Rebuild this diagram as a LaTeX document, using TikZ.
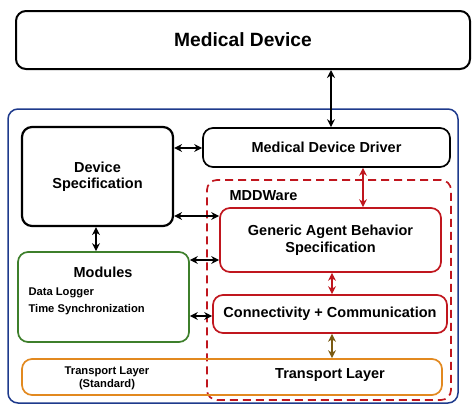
\documentclass[tikz,border=0pt]{standalone}
\usepackage{fontspec}
\setmainfont{Liberation Sans}
\usetikzlibrary{arrows.meta,calc}
\definecolor{cblue}{HTML}{1E3A8C}
\definecolor{cgreen}{HTML}{3D7F2B}
\definecolor{cred}{HTML}{C0161E}
\definecolor{corange}{HTML}{E2891F}
\definecolor{cbrown}{HTML}{7A5A12}
\tikzset{
  box/.style={draw, line width=2pt, rounded corners=10pt, inner sep=0pt, align=center, font=\bfseries\fontsize{14.5}{16.5}\selectfont},
  biarrow/.style={{Stealth[length=8pt,width=8pt]}-{Stealth[length=8pt,width=8pt]}, line width=1.6pt},
  small/.style={font=\bfseries\fontsize{11.2}{13}\selectfont}
}
\begin{document}
\begin{tikzpicture}[x=1pt,y=-1pt]
\useasboundingbox (0,0) rectangle (472,405);
\node[box, minimum width=454pt, minimum height=58pt, font=\bfseries\fontsize{19.2}{21}\selectfont] (md) at (243,40) {Medical Device};
\node[box, draw=cblue, line width=1.5pt, minimum width=450pt, minimum height=294pt] (dev) at (233,256) {};
\node[box, line width=2.2pt, minimum width=151pt, minimum height=99pt] (ds) at (97.5,176.5) {Device\\Specification};
\node[box, line width=1.7pt, minimum width=247pt, minimum height=39pt] (drv) at (326.5,147.5) {Medical Device Driver};
\node[box, draw=cred, dashed, dash pattern=on 8pt off 5pt, line width=1.7pt, minimum width=244pt, minimum height=220pt] (mdd) at (329,290) {};
\node[anchor=west, font=\bfseries\fontsize{14.5}{16.5}\selectfont] (mddl) at (226,196) {MDDWare};
\node[box, draw=cred, line width=1.7pt, minimum width=221pt, minimum height=64pt] (gab) at (330.5,240) {Generic Agent Behavior\\Specification};
\node[box, draw=cred, line width=1.7pt, minimum width=234pt, minimum height=38pt] (cc) at (330,314) {Connectivity + Communication};
\node[box, draw=cgreen, line width=1.7pt, minimum width=171pt, minimum height=90pt] (mod) at (103.5,297) {};
\node[font=\bfseries\fontsize{14.5}{16.5}\selectfont] (modt) at (103,272) {Modules};
\node[small, anchor=west] (m1) at (25,293) {Data Logger};
\node[small, anchor=west] (m2) at (25,310) {Time Synchronization};
\node[box, draw=corange, line width=1.7pt, minimum width=420pt, minimum height=36pt] (tl) at (232,377) {};
\node[align=center, font=\bfseries\fontsize{11.2}{13}\selectfont] (tls) at (107,378) {Transport Layer\\(Standard)};
\node[font=\bfseries\fontsize{14.5}{16.5}\selectfont] (tlr) at (330,375) {Transport Layer};
% arrows
\coordinate (x1) at (331,0);
\coordinate (x2) at (363,0);
\coordinate (x3) at (332,0);
\coordinate (x4) at (96,0);
\coordinate (y1) at (0,148);
\coordinate (y2) at (0,216);
\coordinate (y3) at (0,260);
\coordinate (y4) at (0,316);
\draw[biarrow] (md.south -| x1) -- (drv.north -| x1);
\draw[biarrow] (ds.east |- y1) -- (drv.west |- y1);
\draw[biarrow] (ds.east |- y2) -- (gab.west |- y2);
\draw[biarrow] (ds.south -| x4) -- (mod.north -| x4);
\draw[biarrow] (mod.east |- y3) -- (gab.west |- y3);
\draw[biarrow] (mod.east |- y4) -- (cc.west |- y4);
\draw[biarrow, cred] (drv.south -| x2) -- (gab.north -| x2);
\draw[biarrow, cred] (gab.south -| x3) -- (cc.north -| x3);
\draw[biarrow, cbrown] (cc.south -| x3) -- (tl.north -| x3);
\end{tikzpicture}
\end{document}
